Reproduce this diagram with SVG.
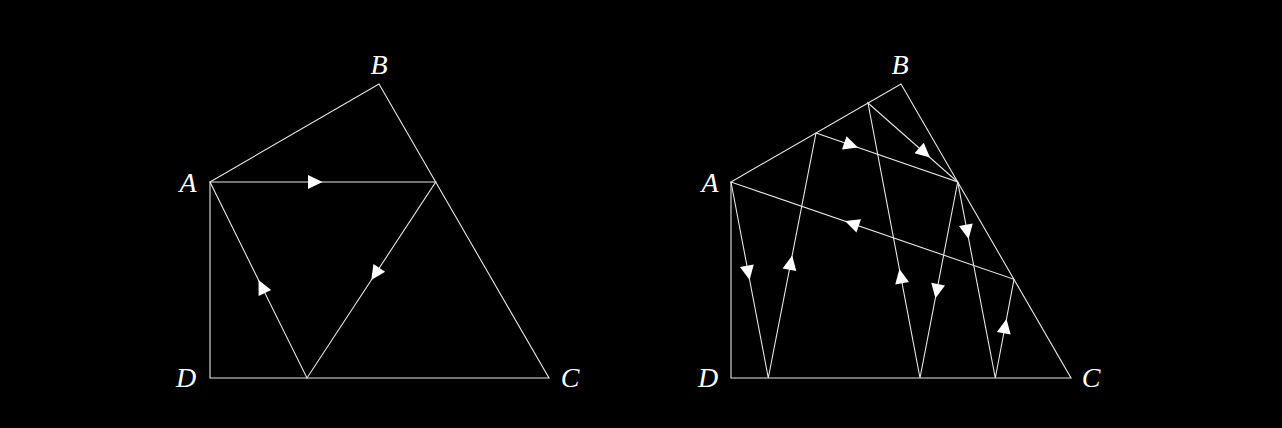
<svg xmlns="http://www.w3.org/2000/svg" xmlns:xlink="http://www.w3.org/1999/xlink" width="1282" height="428" viewBox="0 0 1282 428">
<style>
.ln{stroke:#e6e6e6;stroke-width:1.1;fill:none}
.lb{font-family:"Liberation Serif","DejaVu Serif",serif;font-style:italic;font-size:28px;fill:#fff;text-anchor:middle}
.ah{fill:#fff}
</style>
<defs>
<path id="ah" d="M0,0 L-14.5,-7 L-14.5,7 Z"/>
</defs>
<rect width="1282" height="428" fill="#000"/>
<g id="left">
<g id="connectors-left">
<path class="ln" d="M210,182 L379,84 L549,378 L210,378 Z"/>
<path class="ln" d="M210,182 L435.7,182 L307,378 Z"/>
<use xlink:href="#ah" class="ah" transform="translate(322.5,182) rotate(0)"/>
<use xlink:href="#ah" class="ah" transform="translate(371.3,280) rotate(123.3)"/>
<use xlink:href="#ah" class="ah" transform="translate(258.5,280) rotate(-116.3)"/>
</g>
<g id="lA"><text class="lb" x="188" y="192">A</text></g>
<g id="lB"><text class="lb" x="379" y="74">B</text></g>
<g id="lC"><text class="lb" x="570" y="387">C</text></g>
<g id="lD"><text class="lb" x="186" y="387">D</text></g>
</g>
<g id="right">
<g id="connectors-right">
<path class="ln" d="M731,182 L901,84 L1071,378 L731,378 Z"/>
<path class="ln" d="M731,182 L768.3,378 L816,133 L957.7,182 L995.3,378 L1014,279.3 Z"/>
<path class="ln" d="M868,103 L957.7,182 L920,378 Z"/>
<use xlink:href="#ah" class="ah" transform="translate(749.6,280) rotate(79.2)"/>
<use xlink:href="#ah" class="ah" transform="translate(792.2,255.5) rotate(-79)"/>
<use xlink:href="#ah" class="ah" transform="translate(858,147.6) rotate(19.1)"/>
<use xlink:href="#ah" class="ah" transform="translate(930,157.6) rotate(41.4)"/>
<use xlink:href="#ah" class="ah" transform="translate(935.4,298.3) rotate(100.9)"/>
<use xlink:href="#ah" class="ah" transform="translate(968.6,239) rotate(79.1)"/>
<use xlink:href="#ah" class="ah" transform="translate(899.4,269) rotate(-100.7)"/>
<use xlink:href="#ah" class="ah" transform="translate(1006.5,319) rotate(-79.3)"/>
<use xlink:href="#ah" class="ah" transform="translate(845,221.1) rotate(-161)"/>
</g>
<g id="rA"><text class="lb" x="710" y="192">A</text></g>
<g id="rB"><text class="lb" x="900" y="74">B</text></g>
<g id="rC"><text class="lb" x="1091" y="387">C</text></g>
<g id="rD"><text class="lb" x="708" y="387">D</text></g>
</g>
</svg>
